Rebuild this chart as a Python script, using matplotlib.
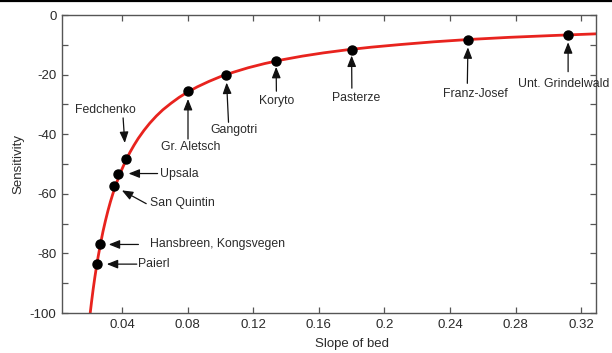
import matplotlib
matplotlib.use("Agg")
import matplotlib.pyplot as plt
from matplotlib.lines import Line2D
from matplotlib.ticker import MultipleLocator, FixedLocator

plt.rcParams['font.family'] = ['Liberation Sans', 'DejaVu Sans']
plt.rcParams['axes.unicode_minus'] = False

# Fitted curve
curve_x = [0.0207, 0.0215, 0.0225, 0.0235, 0.0245, 0.0255, 0.027, 0.0285, 0.030, 0.0315,
           0.033, 0.0345, 0.036, 0.038, 0.040, 0.0425, 0.045, 0.0475, 0.050, 0.0535,
           0.057, 0.061, 0.065, 0.070, 0.075, 0.080, 0.086, 0.093, 0.100, 0.108,
           0.117, 0.127, 0.138, 0.150, 0.163, 0.177, 0.192, 0.210, 0.230, 0.252,
           0.276, 0.302, 0.330]
curve_y = [-100, -96.3, -92, -88.1, -84.5, -81.2, -76.7, -72.6, -69, -65.7,
           -62.7, -60, -57.5, -54.5, -51.8, -48.7, -46, -43.6, -41.4, -38.7,
           -36.3, -33.9, -31.8, -29.6, -27.6, -25.9, -24.1, -22.3, -20.7, -19.2,
           -17.7, -16.3, -15, -13.8, -12.7, -11.7, -10.8, -9.9, -9, -8.2,
           -7.5, -6.9, -6.3]

# Glaciers
glaciers = ["Fedchenko", "Upsala", "San Quintin", "Hansbreen, Kongsvegen", "Paierl",
            "Gr. Aletsch", "Gangotri", "Koryto", "Pasterze", "Franz-Josef",
            "Unt. Grindelwald"]
slope = [0.0424, 0.0378, 0.0355, 0.0265, 0.0247, 0.0803, 0.1036, 0.134, 0.180, 0.251, 0.312]
sensitivity = [-48.3, -53.2, -57.5, -77.0, -83.6, -25.5, -20.0, -15.4, -11.6, -8.3, -6.6]

x_ticks = [0.04, 0.08, 0.12, 0.16, 0.2, 0.24, 0.28, 0.32]
x_tick_labels = ["0.04", "0.08", "0.12", "0.16", "0.2", "0.24", "0.28", "0.32"]
y_ticks = [0, -20, -40, -60, -80, -100]

# Layout of annotations: (arrow tail dx, dy, tip gap px, text dx, dy, ha)  [pixels]
layout = {
    "Fedchenko": (-2.7, 41, 16, -20.7, 49, "center"),
    "Upsala": (39.3, 0, 10.3, 41.3, 0, "left"),
    "San Quintin": (31.7, -17.3, 8.4, 35.7, -16.3, "left"),
    "Hansbreen, Kongsvegen": (38.7, 0, 9, 50.7, 0, "left"),
    "Paierl": (40, 0, 10, 41, 0, "left"),
    "Gr. Aletsch": (0, -48, 8, 2.3, -56.5, "center"),
    "Gangotri": (2.3, -47.7, 8, 7.3, -55.7, "center"),
    "Koryto": (0.3, -30.3, 6, 0.3, -40.3, "center"),
    "Pasterze": (0.3, -38.6, 6, 5, -48.3, "center"),
    "Franz-Josef": (-0.7, -43.6, 7.6, 7.3, -54.3, "center"),
    "Unt. Grindelwald": (0, -37, 7.6, -50, -49.3, "left"),
}

fig = plt.figure(figsize=(6.12, 3.53), dpi=100)
ax = fig.add_axes([62/612, 40/353, (596-62)/612, (313-15)/353])

ax.plot(curve_x, curve_y, color='#e8231e', lw=2, zorder=2, solid_joinstyle='round')
ax.plot(slope, sensitivity, 'o', color='black', ms=6.5, zorder=3)

txt_color = '#2a2a2a'
for name, x, y in zip(glaciers, slope, sensitivity):
    tdx, tdy, gap, xdx, xdy, ha = layout[name]
    ax.annotate('', xy=(x, y), xytext=(tdx, tdy), textcoords='offset pixels',
                arrowprops=dict(arrowstyle='-|>,head_length=0.55,head_width=0.22',
                                color='#111111', lw=0.9,
                                shrinkA=0, shrinkB=gap*0.72, mutation_scale=12),
                annotation_clip=False)
    ax.annotate(name, xy=(x, y), xytext=(xdx, xdy), textcoords='offset pixels',
                ha=ha, va='center', fontsize=8.8, color=txt_color,
                annotation_clip=False)

ax.set_xlim(0.0035, 0.329)
ax.set_ylim(-100, 0)
ax.xaxis.set_major_locator(FixedLocator(x_ticks))
ax.set_xticklabels(x_tick_labels)
ax.yaxis.set_major_locator(FixedLocator(y_ticks))
ax.yaxis.set_minor_locator(MultipleLocator(10))

spine_c = '#555555'
for s in ax.spines.values():
    s.set_color(spine_c)
    s.set_linewidth(1.0)
ax.tick_params(which='both', direction='in', top=True, right=True,
               color=spine_c, width=0.9, labelsize=9.5, labelcolor=txt_color)
ax.tick_params(which='major', length=4.5, pad=4)
ax.tick_params(which='minor', length=4.5)

ax.set_xlabel("Slope of bed", fontsize=9.5, color=txt_color)
ax.xaxis.set_label_coords((352-62)/534, -0.085)
ax.set_ylabel("Sensitivity", fontsize=9.5, color=txt_color)
ax.yaxis.set_label_coords(-0.071, 0.5)

fig.add_artist(Line2D([0, 1], [1 - 1/353, 1 - 1/353], transform=fig.transFigure,
                      color='black', lw=1.6))

fig.savefig("out.png", dpi=100)
